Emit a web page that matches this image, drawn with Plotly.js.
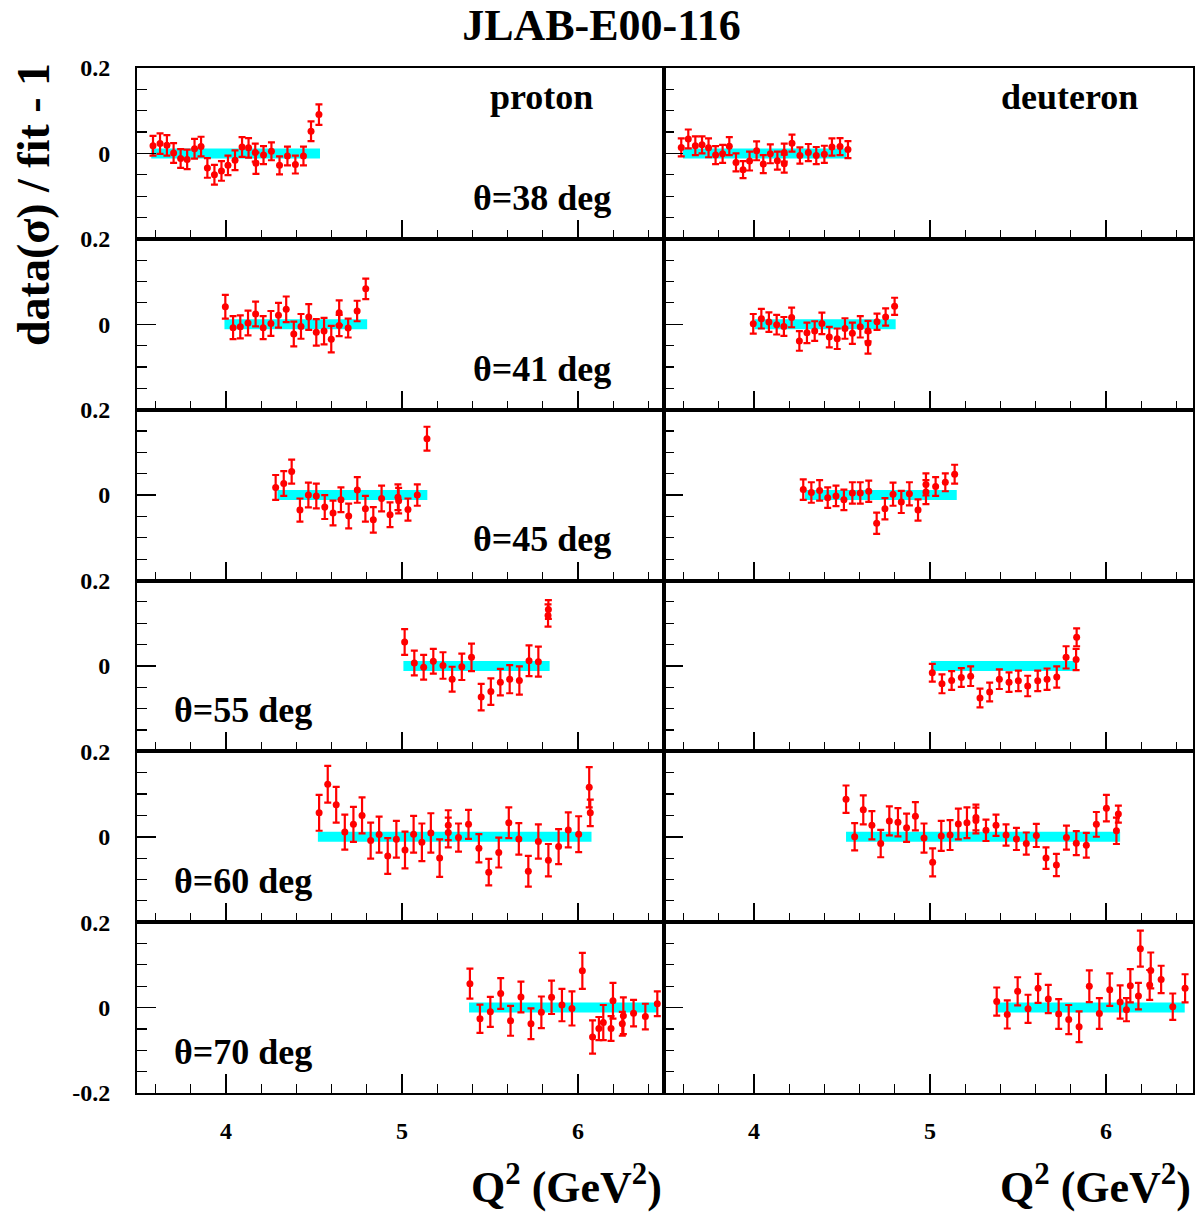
<!DOCTYPE html>
<html>
<head>
<meta charset="utf-8">
<script src="https://cdn.plot.ly/plotly-3.0.1.min.js"></script>
<style>html,body{margin:0;padding:0;background:#fff;}#chart{width:1203px;height:1213px;}</style>
</head>
<body>
<div id="chart"></div>
<script>
// ---- data: data(sigma)/fit - 1 vs Q^2 ----
const angles = ['38', '41', '45', '55', '60', '70'];
const targets = ['proton', 'deuteron'];

const p38x = [3.585,3.625,3.664,3.702,3.742,3.779,3.821,3.858,3.894,3.934,3.974,4.011,4.051,4.091,4.128,4.166,4.170,4.213,4.258,4.304,4.349,4.394,4.440,4.483,4.528];
const p38y = [0.018,0.023,0.019,0.001,-0.012,-0.014,0.011,0.016,-0.034,-0.050,-0.041,-0.028,-0.016,0.015,0.013,0.002,-0.023,-0.004,0.005,-0.028,-0.006,-0.026,-0.006,0.052,0.091];
const p38e = [0.023,0.024,0.024,0.023,0.022,0.023,0.023,0.023,0.023,0.023,0.023,0.023,0.023,0.023,0.023,0.021,0.025,0.021,0.021,0.021,0.022,0.021,0.022,0.023,0.024];

const d38x = [3.587,3.627,3.667,3.705,3.742,3.782,3.822,3.860,3.898,3.938,3.975,4.015,4.053,4.093,4.133,4.172,4.172,4.216,4.261,4.309,4.354,4.400,4.443,4.489,4.534];
const d38y = [0.014,0.034,0.018,0.020,0.013,-0.004,-0.001,0.017,-0.021,-0.038,-0.018,0.006,-0.025,-0.001,-0.017,0.002,-0.024,0.024,-0.005,0.002,-0.005,-0.002,0.015,0.016,0.009];
const d38e = [0.021,0.022,0.022,0.020,0.022,0.021,0.021,0.021,0.021,0.020,0.022,0.022,0.021,0.022,0.021,0.021,0.021,0.020,0.019,0.020,0.020,0.020,0.020,0.020,0.020];

const p41x = [3.996,4.040,4.081,4.125,4.168,4.211,4.255,4.298,4.342,4.385,4.426,4.470,4.513,4.557,4.598,4.643,4.643,4.694,4.745,4.794];
const p41y = [0.041,-0.008,-0.006,0.003,0.024,-0.008,0.002,0.021,0.035,-0.023,-0.005,0.017,-0.019,-0.016,-0.035,0.027,-0.003,-0.009,0.031,0.083];
const p41e = [0.028,0.027,0.027,0.029,0.029,0.027,0.029,0.029,0.030,0.029,0.029,0.030,0.031,0.031,0.031,0.029,0.025,0.022,0.024,0.024];

const d41x = [3.996,4.042,4.085,4.129,4.170,4.214,4.258,4.301,4.345,4.386,4.428,4.473,4.517,4.559,4.604,4.648,4.648,4.699,4.748,4.799];
const d41y = [0.001,0.013,0.005,-0.001,-0.005,0.016,-0.039,-0.020,-0.016,0.002,-0.030,-0.034,-0.010,-0.021,-0.006,-0.016,-0.044,0.006,0.017,0.042];
const d41e = [0.023,0.023,0.023,0.023,0.022,0.023,0.023,0.024,0.023,0.025,0.024,0.024,0.024,0.025,0.025,0.024,0.025,0.019,0.020,0.020];

const p45x = [4.282,4.328,4.373,4.420,4.468,4.513,4.561,4.608,4.653,4.697,4.746,4.792,4.837,4.884,4.932,4.977,4.981,5.034,5.087,5.142];
const p45y = [0.018,0.027,0.055,-0.035,0.000,-0.002,-0.028,-0.042,-0.011,-0.049,0.012,-0.032,-0.058,-0.008,-0.046,-0.005,-0.013,-0.034,0.000,0.132];
const p45e = [0.029,0.029,0.028,0.027,0.029,0.029,0.028,0.029,0.029,0.029,0.030,0.030,0.030,0.030,0.029,0.030,0.030,0.026,0.025,0.028];

const d45x = [4.280,4.326,4.373,4.419,4.466,4.511,4.559,4.604,4.652,4.697,4.744,4.790,4.837,4.883,4.932,4.977,4.977,5.032,5.087,5.140];
const d45y = [0.013,0.006,0.011,-0.006,-0.002,-0.011,0.005,0.005,0.009,-0.066,-0.032,0.002,-0.016,0.003,-0.035,0.025,0.007,0.020,0.030,0.049];
const d45e = [0.024,0.024,0.024,0.024,0.024,0.024,0.025,0.025,0.025,0.025,0.025,0.027,0.026,0.027,0.025,0.026,0.028,0.022,0.021,0.022];

const p55x = [5.015,5.070,5.123,5.178,5.233,5.285,5.340,5.395,5.450,5.505,5.559,5.612,5.667,5.722,5.775,5.830,5.832];
const p55y = [0.056,0.007,-0.003,0.011,0.001,-0.031,-0.002,0.020,-0.073,-0.060,-0.038,-0.031,-0.034,0.012,0.010,0.118,0.132];
const p55e = [0.030,0.029,0.029,0.029,0.031,0.029,0.031,0.032,0.031,0.031,0.031,0.033,0.033,0.036,0.035,0.026,0.022];

const d55x = [5.013,5.068,5.123,5.178,5.231,5.284,5.339,5.394,5.449,5.502,5.555,5.612,5.665,5.720,5.773,5.830,5.833];
const d55y = [-0.016,-0.042,-0.034,-0.027,-0.024,-0.075,-0.061,-0.031,-0.038,-0.035,-0.047,-0.035,-0.031,-0.026,0.020,0.015,0.067];
const d55e = [0.021,0.022,0.022,0.022,0.023,0.022,0.022,0.023,0.023,0.024,0.024,0.024,0.025,0.025,0.026,0.025,0.021];

const p60x = [4.529,4.578,4.626,4.675,4.724,4.773,4.822,4.870,4.919,4.968,5.017,5.066,5.113,5.164,5.214,5.263,5.263,5.321,5.378,5.437,5.493,5.550,5.607,5.664,5.718,5.775,5.832,5.890,5.945,6.004,6.064,6.070];
const p60y = [0.056,0.123,0.075,0.011,0.029,0.050,-0.009,0.005,-0.045,-0.006,-0.031,0.006,-0.013,0.009,-0.050,0.027,0.010,-0.002,0.029,-0.027,-0.083,-0.037,0.033,-0.005,-0.081,-0.011,-0.055,-0.023,0.016,0.006,0.116,0.056];
const p60e = [0.042,0.043,0.042,0.041,0.041,0.042,0.042,0.042,0.042,0.043,0.043,0.043,0.044,0.046,0.044,0.035,0.035,0.033,0.034,0.033,0.031,0.035,0.036,0.037,0.036,0.040,0.038,0.041,0.041,0.042,0.047,0.031];

const d60x = [4.523,4.572,4.621,4.670,4.720,4.769,4.818,4.867,4.917,4.966,5.015,5.064,5.114,5.161,5.210,5.261,5.261,5.318,5.375,5.432,5.491,5.547,5.604,5.659,5.718,5.775,5.831,5.888,5.945,6.002,6.059,6.070];
const d60y = [0.088,0.000,0.063,0.027,-0.016,0.037,0.034,0.021,0.048,-0.003,-0.060,0.002,0.004,0.030,0.033,0.045,0.038,0.015,0.027,0.004,-0.005,-0.016,0.003,-0.050,-0.066,-0.002,-0.015,-0.020,0.029,0.067,0.014,0.053];
const d60e = [0.032,0.032,0.034,0.033,0.032,0.034,0.033,0.033,0.033,0.034,0.033,0.035,0.035,0.036,0.036,0.030,0.030,0.025,0.025,0.025,0.026,0.026,0.027,0.025,0.026,0.028,0.028,0.029,0.029,0.031,0.031,0.020];

const p70x = [5.386,5.443,5.502,5.561,5.617,5.676,5.733,5.792,5.850,5.909,5.966,6.025,6.083,6.119,6.144,6.188,6.199,6.252,6.258,6.316,6.383,6.451];
const p70y = [0.056,-0.026,-0.010,0.033,-0.031,0.025,-0.038,-0.011,0.024,0.006,-0.002,0.086,-0.069,-0.049,-0.035,-0.049,0.016,-0.038,-0.019,-0.013,-0.021,0.009];
const p70e = [0.035,0.033,0.035,0.036,0.035,0.036,0.036,0.037,0.039,0.038,0.040,0.042,0.039,0.027,0.041,0.029,0.042,0.028,0.043,0.031,0.030,0.029];

const d70x = [5.379,5.439,5.498,5.557,5.614,5.672,5.731,5.788,5.847,5.905,5.962,6.021,6.080,6.116,6.138,6.184,6.195,6.248,6.254,6.313,6.379,6.449];
const d70y = [0.014,-0.016,0.038,-0.003,0.045,0.020,-0.015,-0.028,-0.045,0.050,-0.014,0.042,0.013,-0.005,0.051,0.027,0.138,0.053,0.087,0.066,0.002,0.045];
const d70e = [0.033,0.033,0.033,0.033,0.034,0.033,0.035,0.034,0.036,0.037,0.036,0.038,0.039,0.027,0.039,0.031,0.042,0.035,0.042,0.032,0.031,0.033];

// fit band (fit/fit - 1 = 0) Q^2 extent for each panel
const bandP = [[3.575,4.534],[3.991,4.802],[4.292,5.144],[5.008,5.839],[4.522,6.077],[5.381,6.451]];
const bandD = [[3.597,4.525],[4.004,4.805],[4.290,5.152],[5.006,5.828],[4.523,6.080],[5.386,6.447]];
const bandY = [0, 0];

const xTickVals = [4, 5, 6];
const xTickText = ['4', '5', '6'];
const yTickVals = [-0.2, 0, 0.2];
const yTickText = ['-0.2', '0', '0.2'];

const protonSets = [[p38x,p38y,p38e],[p41x,p41y,p41e],[p45x,p45y,p45e],[p55x,p55y,p55e],[p60x,p60y,p60e],[p70x,p70y,p70e]];
const deutSets = [[d38x,d38y,d38e],[d41x,d41y,d41e],[d45x,d45y,d45e],[d55x,d55y,d55e],[d60x,d60y,d60e],[d70x,d70y,d70e]];

// ---- build figure ----
const FONT = 'Liberation Serif';
const traces = [];
const layout = {
  width: 1203, height: 1213,
  margin: {l: 137, r: 10, t: 68, b: 120, pad: 0},
  paper_bgcolor: '#fff', plot_bgcolor: '#fff',
  showlegend: false,
  font: {family: FONT, color: '#000'},
  title: {text: '<b>JLAB-E00-116</b>', x: 0.5, xref: 'container', y: 1 - 25/1213, yref: 'container',
          yanchor: 'middle', xanchor: 'center', font: {family: FONT, size: 44, color: '#000'}},
  annotations: []
};

const splitX = 527/1056;
for (let r = 0; r < 6; r++) {
  for (let c = 0; c < 2; c++) {
    const idx = r*2 + c + 1;
    const xn = idx === 1 ? 'x' : 'x' + idx;
    const yn = idx === 1 ? 'y' : 'y' + idx;
    const xa = idx === 1 ? 'xaxis' : 'xaxis' + idx;
    const ya = idx === 1 ? 'yaxis' : 'yaxis' + idx;
    const band = c === 0 ? bandP[r] : bandD[r];
    const set = c === 0 ? protonSets[r] : deutSets[r];
    traces.push({x: band, y: bandY, xaxis: xn, yaxis: yn, mode: 'lines', type: 'scatter',
      line: {color: '#00ffff', width: 10}, hoverinfo: 'skip'});
    traces.push({x: set[0], y: set[1], xaxis: xn, yaxis: yn, mode: 'markers', type: 'scatter',
      marker: {color: '#ff0000', size: 7},
      error_y: {type: 'data', array: set[2], visible: true, color: '#ff0000', thickness: 2.2, width: 3.5}});
    const bottom = r === 5;
    layout[xa] = {
      domain: c === 0 ? [0, splitX] : [splitX, 1],
      anchor: yn,
      range: c === 0 ? [3.494, 6.489] : [3.489, 6.494],
      showline: true, mirror: true, linecolor: '#000', linewidth: 2,
      showgrid: false, zeroline: false,
      ticks: 'inside', ticklen: 19, tickwidth: 1.5, tickcolor: '#000',
      tickmode: 'array', tickvals: xTickVals, ticktext: xTickText,
      showticklabels: bottom,
      ticklabelstandoff: 15,
      tickfont: {family: FONT, size: 24, color: '#000', weight: 'bold'},
      minor: {dtick: 0.2, tick0: 0, ticks: 'inside', ticklen: 9, tickwidth: 1.2, tickcolor: '#000', showgrid: false}
    };
    layout[ya] = {
      domain: [1 - (r+1)/6, 1 - r/6],
      anchor: xn,
      range: [-0.2, 0.2],
      showline: true, mirror: true, linecolor: '#000', linewidth: 2,
      showgrid: false, zeroline: false,
      ticks: 'inside', ticklen: 19, tickwidth: 1.5, tickcolor: '#000',
      tickmode: 'array', tickvals: bottom ? yTickVals : yTickVals.slice(1), ticktext: bottom ? yTickText : yTickText.slice(1),
      showticklabels: c === 0,
      ticklabelstandoff: 20,
      tickfont: {family: FONT, size: 24, color: '#000', weight: 'bold'},
      minor: {dtick: 0.05, tick0: 0, ticks: 'inside', ticklen: 10, tickwidth: 1.2, tickcolor: '#000', showgrid: false}
    };
    // angle label
    if (c === 0) {
      const leftSide = r >= 3;
      layout.annotations.push({
        xref: xn, yref: yn, x: leftSide ? 4.097 : 5.795, y: -0.104,
        text: '<b>θ=' + angles[r] + ' deg</b>', showarrow: false,
        xanchor: 'center', yanchor: 'middle',
        font: {family: FONT, size: 36, color: '#000'}
      });
    }
    if (r === 0) {
      layout.annotations.push({
        xref: xn, yref: yn, x: 5.795, y: 0.131,
        text: '<b>' + targets[c] + '</b>', showarrow: false,
        xanchor: 'center', yanchor: 'middle',
        font: {family: FONT, size: 36, color: '#000'}
      });
    }
    if (bottom) {
      layout.annotations.push({
        xref: xn + ' domain', yref: 'paper', x: 1, y: 0,
        yshift: -91,
        text: '<b>Q<sup>2</sup> (GeV<sup>2</sup>)</b>', showarrow: false,
        xanchor: 'right', yanchor: 'middle',
        font: {family: FONT, size: 44, color: '#000'}
      });
    }
  }
}
// y axis title
layout.annotations.push({
  xref: 'paper', yref: 'paper', x: 0, xshift: -104, y: 1, yshift: -137,
  text: '<b>data(σ) / fit - 1</b>', showarrow: false, textangle: -90,
  xanchor: 'center', yanchor: 'middle',
  font: {family: FONT, size: 46, color: '#000'}
});

Plotly.newPlot('chart', traces, layout, {staticPlot: true, displayModeBar: false});
</script>
</body>
</html>
